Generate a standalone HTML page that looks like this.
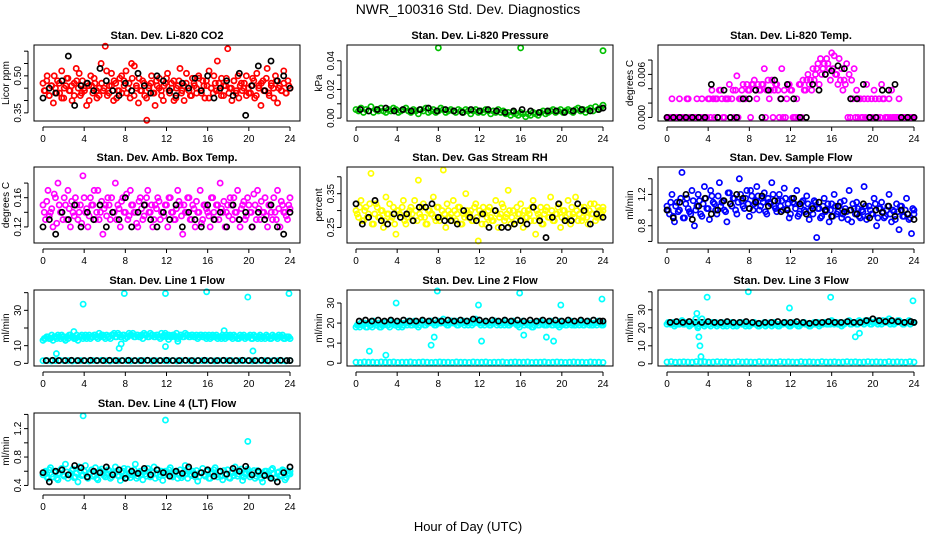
<!DOCTYPE html>
<html><head><meta charset="utf-8"><style>
body{margin:0;background:#fff}
svg{display:block;font-family:"Liberation Sans",sans-serif}
</style></head><body>
<svg id="c" width="936" height="540">
<text x="468" y="14" text-anchor="middle" font-size="14">NWR_100316  Std. Dev. Diagnostics</text>
<text x="468" y="531" text-anchor="middle" font-size="13">Hour of Day (UTC)</text>
</svg>
<script>
// ---- data arrays ----
const xTicks=[0,4,8,12,16,20,24];
const co2Main=[.47,.44,.50,.42,.46,.39,.45,.48,.43,.52,.41,.46,.49,.44,.40,.47,.53,.45,.42,.48,.44,.38,.46,.50,.43,.47,.41,.45,.55,.44,.62,.42,.46,.51,.40,.47,.44,.49,.43,.48,.52,.45,.41,.49,.54,.46,.39,.44,.48,.42,.32,.45,.47,.43,.38,.46,.49,.44,.40,.47,.51,.43,.45,.48,.41,.46,.53,.44,.40,.47,.45,.42,.49,.46,.43,.50,.44,.48,.41,.46,.52,.45,.43,.47,.56,.44,.49,.42,.46,.61,.45,.40,.48,.43,.50,.46,.44,.47,.42,.45,.43,.49,.41,.51,.46,.38,.48,.44,.53,.42,.47,.45,.50,.39,.46,.44,.52,.43,.48,.45];
const co2Extra=[.44,.48,.42,.46,.50,.43,.47,.41,.45,.49,.44,.46,.42,.48,.51,.43,.45,.47,.40,.46,.49,.44,.42,.47,.45,.52,.43,.46,.48,.41,.44,.50,.46,.43,.47,.55,.42,.45,.49,.44,.47,.41,.46,.50,.43,.48,.45,.42,.46,.49,.44,.47,.40,.45,.48,.43,.46,.51,.44,.42,.47,.45,.49,.43,.46,.48,.41,.45,.50,.44,.47,.42,.46,.49,.43,.45,.48,.44,.41,.47,.45,.50,.43,.46,.48,.42,.45,.47,.44,.49,.43,.46,.41,.48,.45,.44,.47,.43,.46,.45];
const co2Black=[.41,.45,.43,.48,.58,.38,.46,.47,.44,.53,.48,.44,.42,.47,.44,.51,.46,.43,.50,.48,.44,.42,.47,.45,.49,.44,.50,.41,.45,.48,.42,.51,.34,.46,.54,.44,.56,.48,.50,.45];
const presMain=[.006,.005,.007,.004,.006,.005,.008,.004,.006,.005,.007,.005,.004,.006,.005,.007,.006,.004,.005,.006,.007,.005,.004,.006,.005,.003,.006,.005,.007,.004,.005,.006,.004,.005,.007,.006,.004,.005,.006,.005,.004,.006,.005,.004,.006,.005,.003,.005,.006,.004,.005,.004,.006,.005,.003,.005,.004,.006,.004,.005,.003,.004,.002,.004,.003,.002,.004,.003,.001,.003,.002,.004,.003,.002,.004,.005,.003,.004,.005,.006,.004,.005,.006,.004,.005,.006,.005,.004,.006,.007,.005,.006,.004,.006,.007,.005,.008,.006,.007,.009];
const presBlack=[.006,.005,.006,.007,.005,.006,.005,.006,.007,.005,.006,.005,.004,.006,.005,.006,.005,.004,.005,.006,.005,.004,.005,.005,.004,.005,.006,.005,.006,.007];
const presOutHours=[8,16,24];
const presOutVals=[.049,.049,.047];
const tempMain=[0,0,.0026,0,0,.0026,0,0,.0026,0,0,0,.0026,0,.0026,0,0,.0026,.0038,0,.0026,.0038,.0026,0,.0026,.0046,.0026,0,.0058,.0026,.0038,.0026,.0046,.0038,.0046,.0052,.0026,.0038,.0046,.0068,.0038,.0026,.0052,.0038,.0046,0,.0068,.0038,.0026,.0046,.0038,0,.0026,.0046,0,.0038,.0052,.0046,.0038,.0052,.0068,.0046,.0060,.0075,.0082,.0068,.0090,.0086,.0060,.0082,.0068,.0052,.0075,.0060,.0052,.0068,.0038,.0026,0,.0026,.0046,0,.0026,.0038,0,.0026,.0046,.0026,0,.0026,.0038,0,0,.0026,0,0,0,0,0,0];
const tempExtra=[0,0,0,0,0,0,0,0,.0026,0,0,0,0,0,0,0,.0026,0,.0026,.0026,0,.0038,0,.0026,.0026,0,.0038,.0038,0,.0026,.0046,.0026,.0038,0,.0046,.0038,.0046,.0038,.0046,0,.0052,.0038,0,.0046,.0038,.0026,0,0,.0046,.0038,0,0,0,.0046,.0052,.0038,.0060,.0052,.0068,.0060,.0075,.0082,.0068,.0060,.0075,.0052,.0068,.0060,.0046,.0052,.0038,.0046,0,0,.0026,0,0,.0026,0,0,.0026,0,0,.0026,0,0,.0026,0,0,0,0,0,0,0,0,0,0,0,0,0];
const tempBlack=[0,0,0,0,0,0,0,.0046,0,.0038,0,0,.0026,.0026,.0038,0,.0038,.0052,.0026,.0046,.0026,0,0,.0046,.0038,.0060,.0065,.0072,.0068,.0026,.0026,.0046,0,0,.0038,.0038,.0046,0,0,0];
const ambMain=[.15,.13,.17,.14,.12,.16,.18,.14,.13,.15,.17,.12,.14,.16,.13,.15,.19,.14,.12,.16,.15,.13,.17,.14,.11,.15,.16,.13,.14,.18,.15,.12,.16,.14,.13,.17,.15,.14,.12,.16,.13,.15,.17,.14,.12,.15,.16,.13,.14,.15,.12,.16,.14,.13,.17,.15,.11,.14,.16,.13,.15,.12,.14,.17,.13,.15,.14,.12,.16,.13,.15,.18,.14,.12,.15,.16,.13,.14,.17,.12,.15,.13,.16,.14,.12,.15,.17,.13,.14,.16,.12,.15,.13,.14,.17,.12,.15,.14,.13,.16];
const ambExtra=[.14,.155,.135,.145,.165,.125,.15,.14,.16,.13,.145,.155,.135,.15,.14,.125,.16,.145,.135,.15,.17,.14,.13,.155,.145,.135,.15,.16,.14,.13,.145,.155,.14,.165,.135,.15,.14,.125,.155,.145,.135,.16,.14,.15,.13,.145,.155,.14,.135,.15,.16,.14,.13,.145,.155,.135,.15,.14,.16,.13,.145,.155,.14,.125,.15,.145,.135,.16,.14,.15,.13,.145,.155,.14,.135,.15,.16,.14,.13,.145,.155,.135,.15,.14,.165,.13,.145,.155,.14,.135,.15,.14,.16,.13,.145,.155,.14,.135,.15,.145];
const ambBlack=[.12,.13,.11,.14,.13,.15,.12,.14,.13,.15,.12,.14,.13,.16,.12,.14,.15,.13,.12,.14,.13,.15,.12,.14,.13,.12,.15,.13,.14,.12,.15,.13,.14,.12,.14,.13,.15,.12,.11,.14];
const rhMain=[.30,.28,.33,.27,.31,.29,.41,.26,.32,.28,.30,.25,.34,.29,.27,.31,.23,.30,.28,.33,.26,.29,.31,.27,.30,.39,.28,.32,.26,.30,.29,.34,.27,.31,.28,.42,.25,.30,.29,.33,.27,.31,.26,.29,.35,.28,.30,.27,.32,.21,.29,.31,.26,.30,.28,.27,.33,.25,.29,.31,.28,.36,.26,.30,.27,.29,.32,.25,.28,.30,.27,.33,.23,.29,.31,.26,.30,.28,.34,.27,.29,.31,.25,.30,.28,.33,.26,.29,.34,.27,.31,.28,.30,.26,.32,.29,.27,.31,.28,.30];
const rhExtra=[.29,.31,.27,.30,.28,.32,.26,.29,.31,.28,.30,.27,.29,.32,.28,.26,.30,.29,.31,.27,.28,.30,.29,.33,.27,.29,.31,.28,.26,.30,.29,.28,.31,.27,.30,.29,.32,.28,.27,.30,.29,.31,.26,.28,.30,.29,.27,.31,.28,.30,.26,.29,.28,.31,.27,.30,.29,.28,.32,.27,.29,.30,.28,.26,.31,.29,.27,.30,.28,.29,.31,.27,.30,.28,.26,.29,.31,.28,.30,.27,.29,.32,.28,.30,.27,.29,.31,.28,.30,.29,.27,.31,.28,.30,.29,.32,.28,.30,.29,.31];
const rhBlack=[.32,.26,.28,.33,.27,.26,.29,.28,.29,.27,.31,.31,.32,.28,.27,.27,.26,.30,.28,.27,.29,.25,.30,.25,.25,.26,.27,.26,.31,.27,.22,.28,.32,.27,.27,.32,.30,.26,.29,.28];
const flowMain=[1.05,.95,1.20,.85,1.10,1.00,1.48,.90,1.15,.98,1.25,.80,1.05,1.12,.92,1.30,1.02,.88,1.18,1.08,.95,1.35,1.10,1.00,.85,1.22,1.05,1.15,.95,1.40,1.12,1.02,1.25,.92,1.18,1.08,1.30,1.00,1.15,1.22,.95,1.10,1.35,1.05,.98,1.20,1.12,1.28,1.02,.90,1.15,1.08,1.25,.95,1.10,1.00,1.18,.88,1.05,1.12,.65,1.02,.92,1.15,1.00,.85,1.08,1.20,.95,1.05,.90,1.12,.98,1.25,.85,1.02,1.10,.92,1.00,1.30,.88,1.05,.95,1.15,.80,1.02,1.10,.90,1.00,1.20,.85,.98,1.08,.75,1.05,.92,1.15,.88,.70,1.00];
const flowExtra=[1.00,1.10,.92,1.05,.98,1.15,.90,1.08,1.02,.95,1.12,1.00,1.20,.95,1.08,1.15,1.02,1.25,1.10,1.00,1.18,1.05,1.12,.98,1.22,1.08,1.15,1.00,1.10,1.20,1.05,1.15,1.08,1.25,1.00,1.12,1.18,1.05,1.10,.98,1.15,1.08,1.20,1.02,1.12,1.05,1.00,1.15,1.08,.95,1.10,1.02,.92,1.05,1.12,.98,1.08,1.00,.95,1.10,1.02,.90,1.05,.98,1.08,1.00,.92,1.05,.98,1.10,.95,1.02,.88,1.00,1.08,.95,1.02,.90,.98,1.05,.92,1.00,.95,1.08,.90,1.02,.98,.92,1.05,.95,1.00,.88,.98,1.05,.92,1.00,.95,.90,1.02,.95];
const flowBlack=[1.00,.90,1.10,1.20,.88,1.05,1.15,.95,1.00,1.12,1.08,1.20,1.15,1.02,1.10,1.18,1.05,1.12,.98,1.00,1.15,1.08,.95,1.02,1.10,1.00,.92,1.05,.98,1.00,.95,1.08,.90,1.00,.97,1.05,.92,1.00,.95,.88];
const line1Main=[13,14,15,14,13,15,16,14,15,13,14,16,15,14,13,15,14,16,15,14,15,16,14,15,16,14,15,14,16,15,17,15,16,14,15,16,17,15,16,15,14,16,15,17,16,15,16,14,15,17,16,15,16,15,14,16,15,17,16,15,16,15,14,16,15,16,15,14,16,15,14,15,16,14,15,16,14,15,14,16,15,14,15,16,14,15,14,16,15,14,15,14,16,15,14,15,16,14,15,14];
const line1Extra=[14,15,14,16,15,14,15,16,14,15,16,15,14,16,15,16,15,14,16,15,16,15,17,16,15,16,15,16,17,15,16,15,16,15,17,16,15,16,15,16,17,16,15,16,15,16,15,17,16,15,16,15,16,17,15,16,15,16,15,16,15,16,15,16,15,14,16,15,15,16,15,14,15,16,15,15,16,15,14,15,16,15,15,14,16,15,15,14,15,16,15,14,15,15,16,15,14,15,15,14];
const line1Low=[1.5,1.6,1.4,1.5,1.7,1.5,1.6,1.4,1.5,1.6,1.5,1.4,1.6,1.5,1.7,1.5,1.4,1.6,1.5,1.6,1.5,1.4,1.5,1.6,1.5,1.7,1.4,1.5,1.6,1.5,1.5,1.6,1.4,1.5,1.6,1.5,1.4,1.6,1.5,1.6,1.5,1.4,1.6,1.5,1.5,1.6,1.4,1.5,1.6,1.5,1.4,1.5,1.6,1.5,1.4,1.6,1.5,1.5,1.4,1.6];
const line1Black=[1.6,1.7,1.6,1.6,1.7,1.6,1.6,1.7,1.6,1.6,1.7,1.6,1.6,1.7,1.6,1.6,1.7,1.6,1.6,1.7,1.6,1.6,1.7,1.6,1.6,1.7,1.6,1.6,1.7,1.6,1.6,1.7,1.6,1.6,1.7,1.6,1.6,1.7,1.6,1.6];
const line1OutHours=[1.3,3.9,7.9,11.9,15.9,19.9,23.9,7.4,11.9,13.1,20.4,3.0,17.6,7.6,12.2];
const line1OutVals=[5.5,33.5,39.5,39.5,40.5,37.5,39.5,8.5,9.5,12.5,7.0,18,18.5,11,13.5];
const line2Main=[18,19,20,19,18,20,19,21,19,20,18,19,20,19,21,20,19,18,20,19,20,21,19,20,19,18,20,21,19,20,21,20,19,21,20,22,20,19,21,20,21,19,20,21,20,19,21,20,22,20,19,20,21,20,19,20,21,20,19,20,21,19,20,21,20,19,20,21,20,19,20,18,20,19,21,20,19,20,21,19,20,19,21,20,19,20,21,20,19,20,21,19,20,21,20,19,20,21,20,20];
const line2Extra=[19,18,19,20,18,19,18,20,19,18,19,20,19,18,20,19,20,19,18,20,19,20,19,21,20,19,20,19,20,21,20,19,20,20,21,20,19,20,21,20,19,20,20,19,21,20,19,20,21,20,20,19,20,19,20,21,19,20,20,19,20,19,20,20,19,18,20,19,20,19,18,19,20,19,20,19,19,20,19,20,19,18,19,20,19,20,19,19,20,19,20,19,20,19,19,20,19,20,19,19];
const line2Low=[.5,.4,.6,.5,.5,.4,.6,.5,.5,.6,.4,.5,.5,.6,.4,.5,.6,.5,.4,.5,.6,.5,.5,.4,.6,.5,.5,.4,.6,.5,.5,.6,.4,.5,.5,.6,.4,.5,.6,.5,.5,.6,.4,.5,.5,.6,.4,.5,.6,.5,.4,.5,.6,.5,.5,.4,.6,.5,.5,.4];
const line2Black=[21,21.5,21,21.5,21,21.5,21,21.5,21,21,21.5,21,21.5,21,21.5,21,21.5,21,22,21.5,21,21.5,21,21.5,21,21.5,21,21.5,21,21.5,21,21.5,21,21.5,21,21.5,21,21.5,21,21];
const line2OutHours=[3.9,7.9,11.9,15.9,19.9,23.9,1.3,7.3,7.6,12.2,16.3,18.5,19.2,2.9];
const line2OutVals=[30,36,29,35,29,32,6,9,13,11,14,13,11,4];
const line3Main=[22,23,22,21,23,22,24,22,23,21,22,23,22,23,22,21,23,22,23,22,21,22,23,22,21,22,23,22,21,23,22,23,22,21,22,23,22,21,22,23,22,22,21,23,22,21,22,23,22,21,22,23,22,21,22,23,22,21,22,23,22,21,22,23,22,23,24,22,23,22,21,22,23,24,22,23,22,24,23,22,23,24,22,23,24,23,22,23,24,25,23,22,23,24,23,22,23,24,23,23];
const line3Extra=[23,22,23,22,22,23,22,23,22,22,23,22,21,22,23,22,22,21,22,23,22,22,21,22,23,22,21,22,22,23,22,21,22,22,23,22,21,22,22,21,22,23,22,22,21,22,22,23,22,21,22,22,21,22,23,22,22,21,22,22,23,22,22,23,22,22,23,23,22,23,22,23,23,22,23,23,22,23,23,24,23,22,23,23,22,23,24,23,23,22,23,23,24,23,22,23,23,22,23,23];
const line3Low=[1,1.2,.9,1,1.1,1,.9,1.2,1,1.1,.9,1,1.2,1,1.1,.9,1,1.2,1,1.1,1,.9,1.2,1,1.1,1,.9,1.2,1,1.1,1,.9,1.2,1,1.1,1,.9,1.2,1,1,1.1,.9,1,1.2,1,1.1,.9,1,1.2,1,1.1,1,.9,1.2,1,1.1,1,.9,1.2,1];
const line3Black=[23,23.5,23,23.5,23,23,23.5,23,23,23.5,23,23,23.5,23,22.5,23,23,23.5,23,23,23.5,23,22.5,23,23,23.5,23,23,23.5,23,23,24,25,24,23.5,24,23.5,23,23.5,23];
const line3OutHours=[3.9,7.9,11.9,15.9,23.9,2.9,3.0,3.1,3.2,3.3,2.8,18.3,18.7,3.4];
const line3OutVals=[37,40,31,37,35,28,20,15,10,4,25,15,17,25];
const line4Main=[.55,.60,.50,.65,.52,.58,.48,.62,.55,.70,.50,.57,.63,.52,.45,.60,.55,.68,.50,.58,.53,.65,.48,.60,.56,.52,.62,.50,.58,.66,.54,.47,.60,.55,.63,.51,.58,.70,.53,.60,.48,.56,.64,.52,.58,.50,.62,.55,.47,.60,.57,.65,.52,.58,.50,.62,.54,.68,.50,.56,.60,.52,.46,.58,.64,.53,.60,.50,.57,.65,.52,.59,.48,.55,.62,.50,.58,.66,.53,.60,.47,.56,.63,.52,.58,.50,.61,.55,.45,.60,.57,.52,.64,.50,.58,.53,.62,.48,.56,.60];
const line4Extra=[.58,.52,.62,.56,.60,.50,.57,.64,.53,.59,.55,.61,.51,.57,.66,.54,.60,.52,.58,.62,.55,.50,.59,.63,.54,.57,.61,.52,.56,.60,.53,.58,.64,.51,.57,.55,.62,.50,.58,.56,.61,.53,.59,.54,.66,.57,.52,.60,.55,.58,.62,.53,.57,.60,.55,.51,.59,.56,.63,.54,.57,.61,.52,.58,.55,.60,.50,.57,.62,.55,.59,.53,.61,.56,.51,.58,.54,.60,.56,.63,.52,.57,.59,.55,.61,.53,.58,.50,.56,.60,.54,.62,.57,.52,.59,.55,.61,.51,.57,.56];
const line4Black=[.58,.45,.60,.62,.55,.68,.65,.52,.60,.58,.66,.55,.62,.50,.60,.57,.64,.55,.62,.58,.53,.60,.57,.66,.55,.58,.62,.53,.60,.56,.64,.60,.67,.55,.60,.54,.50,.45,.58,.66];
const line4OutHours=[3.9,11.9,19.9];
const line4OutVals=[1.38,1.32,1.02];

// ---- layout ----
const W=266,H=76,colX=[34,347,658],rowY=[45,167,290,413];
const panels=[
 {t:"Stan. Dev. Li-820 CO2",yl:"Licor ppm",r:0,c:0,ymin:.317,ymax:.625,ticks:[.35,.40,.45,.50,.55,.60],labs:[.35,.50],fmt:2,
  s:[[co2Main,"#ff0000"],[co2Extra,"#ff0000"],[co2Black,"#000"]]},
 {t:"Stan. Dev. Li-820 Pressure",yl:"kPa",r:0,c:1,ymin:-.002,ymax:.051,ticks:[0,.01,.02,.03,.04],labs:[0,.02,.04],fmt:2,
  s:[[presMain,"#00c000"],[presBlack,"#000"]],o:[presOutHours,presOutVals,"#00c000"]},
 {t:"Stan. Dev. Li-820 Temp.",yl:"degrees C",r:0,c:2,ymin:-.0005,ymax:.0101,ticks:[0,.002,.004,.006,.008],labs:[0,.006],fmt:3,
  s:[[tempMain,"#ff00ff"],[tempExtra,"#ff00ff"],[tempBlack,"#000"]]},
 {t:"Stan. Dev. Amb. Box Temp.",yl:"degrees C",r:1,c:0,ymin:.098,ymax:.202,ticks:[.12,.14,.16,.18],labs:[.12,.16],fmt:2,
  s:[[ambMain,"#ff00ff"],[ambExtra,"#ff00ff"],[ambBlack,"#000"]]},
 {t:"Stan. Dev. Gas Stream RH",yl:"percent",r:1,c:1,ymin:.204,ymax:.429,ticks:[.25,.30,.35,.40],labs:[.25,.35],fmt:2,
  s:[[rhMain,"#ffff00"],[rhExtra,"#ffff00"],[rhBlack,"#000"]]},
 {t:"Stan. Dev. Sample Flow",yl:"ml/min",r:1,c:2,ymin:.58,ymax:1.55,ticks:[.6,.8,1.0,1.2,1.4],labs:[.8,1.2],fmt:1,
  s:[[flowMain,"#0000ff"],[flowExtra,"#0000ff"],[flowBlack,"#000"]]},
 {t:"Stan. Dev. Line 1 Flow",yl:"ml/min",r:2,c:0,ymin:-1.5,ymax:41.5,ticks:[0,10,20,30,40],labs:[0,10,30],fmt:0,
  s:[[line1Main,"#00ffff"],[line1Extra,"#00ffff"],[line1Low,"#00ffff"],[line1Black,"#000"]],o:[line1OutHours,line1OutVals,"#00ffff"]},
 {t:"Stan. Dev. Line 2 Flow",yl:"ml/min",r:2,c:1,ymin:-1.4,ymax:36.5,ticks:[0,10,20,30],labs:[0,10,20,30],fmt:0,
  s:[[line2Main,"#00ffff"],[line2Extra,"#00ffff"],[line2Low,"#00ffff"],[line2Black,"#000"]],o:[line2OutHours,line2OutVals,"#00ffff"]},
 {t:"Stan. Dev. Line 3 Flow",yl:"ml/min",r:2,c:2,ymin:-1.2,ymax:41,ticks:[0,10,20,30,40],labs:[0,10,20,30],fmt:0,
  s:[[line3Main,"#00ffff"],[line3Extra,"#00ffff"],[line3Low,"#00ffff"],[line3Black,"#000"]],o:[line3OutHours,line3OutVals,"#00ffff"]},
 {t:"Stan. Dev. Line 4 (LT) Flow",yl:"ml/min",r:3,c:0,ymin:.35,ymax:1.42,ticks:[.4,.6,.8,1.0,1.2,1.4],labs:[.4,.8,1.2],fmt:1,
  s:[[line4Main,"#00ffff"],[line4Extra,"#00ffff"],[line4Black,"#000"]],o:[line4OutHours,line4OutVals,"#00ffff"]}
];
const svg=document.getElementById('c');
const NS="http://www.w3.org/2000/svg";
function mk(tag,at,parent){const e=document.createElementNS(NS,tag);for(const k in at)e.setAttribute(k,at[k]);(parent||svg).appendChild(e);return e;}
function circ(g,x,y,col){const e=mk('circle',{cx:x,cy:y,r:2.6,fill:'none',stroke:col,'stroke-width':1.7},g);
 
 }
panels.forEach((p,pi)=>{
 const L=colX[p.c],T=rowY[p.r],B=T+H;
 const g=mk('g',{});
 
 
 const xs=h=>L+9+h*247/24;
 const ys=v=>B-(v-p.ymin)/(p.ymax-p.ymin)*H;
 const tt=mk('text',{x:L+W/2,y:T-6,'text-anchor':'middle','font-size':11,'font-weight':'bold'},g);tt.textContent=p.t;
 
 
 // points (index k offsets second arrays by half a step)
 p.s.forEach(([arr,col],k)=>{const n=arr.length;const off=(k%2)?12/(n-1):0;arr.forEach((v,i)=>circ(g,xs(Math.min(24,i*24/(n-1)+off)),ys(v),col));});
 if(p.o){const [hs,vs,col]=p.o;hs.forEach((h,i)=>circ(g,xs(h),ys(vs[i]),col));}
 const box=mk('rect',{x:L,y:T,width:W,height:H,fill:'none',stroke:'#000','stroke-width':1},g);
 
 
 const ax=mk('g',{stroke:'#000','stroke-width':1},g);
 
 
 mk('line',{x1:xs(0),x2:xs(24),y1:B+6,y2:B+6},ax);
 xTicks.forEach(h=>{mk('line',{x1:xs(h),x2:xs(h),y1:B+6,y2:B+10},ax);
  const t=mk('text',{x:xs(h),y:B+21,'text-anchor':'middle','font-size':10,stroke:'none'},ax);t.textContent=h;
  
  });
 const ay=mk('g',{stroke:'#000','stroke-width':1},g);
 
 
 mk('line',{x1:L-6,x2:L-6,y1:ys(p.ticks[0]),y2:ys(p.ticks[p.ticks.length-1])},ay);
 p.ticks.forEach(v=>mk('line',{x1:L-6,x2:L-10,y1:ys(v),y2:ys(v)},ay));
 p.labs.forEach(v=>{const t=mk('text',{x:0,y:0,transform:`translate(${L-13},${ys(v)}) rotate(-90)`,'text-anchor':'middle','font-size':10,stroke:'none'},ay);
  t.textContent=v.toFixed(p.fmt);
  
  });
 const yt=mk('text',{x:0,y:0,transform:`translate(${L-25},${T+H/2}) rotate(-90)`,'text-anchor':'middle','font-size':10},g);
 yt.textContent=p.yl;
 
 
});
</script>
</body></html>
